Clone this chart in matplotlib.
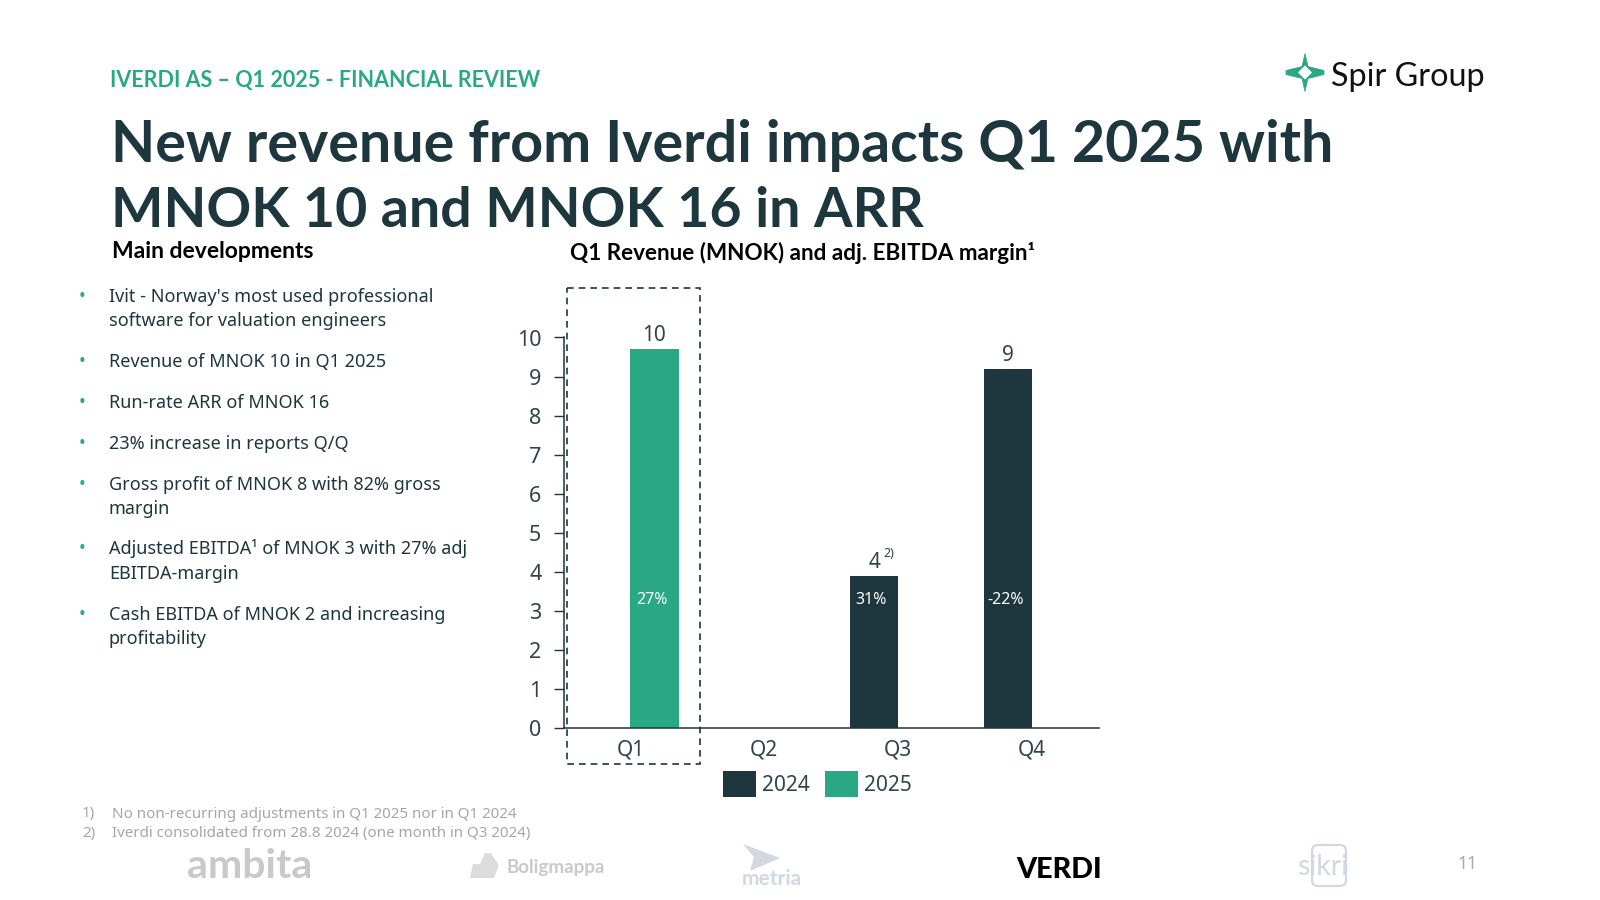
"""Iverdi Q1 2025 review slide: revenue bars per quarter plus the slide text around them."""
import matplotlib
matplotlib.use("Agg")
import matplotlib.pyplot as plt
import numpy as np
from matplotlib.patches import FancyBboxPatch, Polygon, Rectangle

DARK = "#1e363d"
GREEN = "#2aa884"
TICK = "#2f444c"
FOOT = "#a6a6a6"
LOGO = "#c9c9c9"
LOGO_BLUE = "#d3d7e2"
HEAD = ["Lato", "DejaVu Sans"]

quarters = ["Q1", "Q2", "Q3", "Q4"]
rev_2024 = [np.nan, np.nan, 3.9, 9.2]
rev_2025 = [9.7, np.nan, np.nan, np.nan]
value_labels = ["10", "", "4", "9"]
margin_labels = ["27%", "", "31%", "-22%"]
yticks = list(range(0, 11))

bullets = [
    ["Ivit - Norway's most used professional", "software for valuation engineers"],
    ["Revenue of MNOK 10 in Q1 2025"],
    ["Run-rate ARR of MNOK 16"],
    ["23% increase in reports Q/Q"],
    ["Gross profit of MNOK 8 with 82% gross", "margin"],
    ["Adjusted EBITDA¹ of MNOK 3 with 27% adj", "EBITDA-margin"],
    ["Cash EBITDA of MNOK 2 and increasing", "profitability"],
]
bullet_y = [[297, 321], [362], [403], [485 - 41], [485, 509], [549, 574], [615, 639]]
footnotes = ["No non-recurring adjustments in Q1 2025 nor in Q1 2024",
             "Iverdi consolidated from 28.8 2024 (one month in Q3 2024)"]

plt.rcParams["font.family"] = ["Noto Sans", "DejaVu Sans"]

W, H = 1600, 900
fig = plt.figure(figsize=(16, 9), dpi=100, facecolor="white")

# page layer in pixel coordinates, y down
pg = fig.add_axes([0, 0, 1, 1], zorder=3)
pg.set_xlim(0, W)
pg.set_ylim(H, 0)
pg.axis("off")
pg.patch.set_alpha(0)

# chart
left, right, y0, y10 = 563.5, 1099, 728, 337.5
ax = fig.add_axes([left / W, 1 - y0 / H, (right - left) / W, (y0 - y10) / H], zorder=2)
x = np.arange(len(quarters))
bw = 0.36
b24 = ax.bar(x - bw / 2, rev_2024, bw, color=DARK, label="2024")
b25 = ax.bar(x + bw / 2, rev_2025, bw, color=GREEN, label="2025")
ax.set_xlim(-0.5, 3.5)
ax.set_ylim(0, 10)
ax.set_yticks(yticks)
ax.set_xticks(x)
ax.set_xticklabels(quarters)
ax.tick_params(axis="y", length=7, width=1, color=DARK, labelsize=15.5, labelcolor=TICK, pad=9)
ax.tick_params(axis="x", length=0, labelsize=15, labelcolor=TICK, pad=8)
for s in ("top", "right"):
    ax.spines[s].set_visible(False)
for s in ("left", "bottom"):
    ax.spines[s].set_color(DARK)
    ax.spines[s].set_linewidth(1.1)
for i in range(len(quarters)):
    if not value_labels[i]:
        continue
    is_25 = not np.isnan(rev_2025[i])
    xc = x[i] + bw / 2 if is_25 else x[i] - bw / 2
    val = rev_2025[i] if is_25 else rev_2024[i]
    ax.annotate(value_labels[i], (xc, val), xytext=(0, 2), textcoords="offset points",
                ha="center", va="bottom", fontsize=15, color=TICK)
    ax.annotate(margin_labels[i], (xc, 3.27), xytext=(-2, 0),
                textcoords="offset points", ha="center", va="center", fontsize=11.5, color="white")
ax.annotate("2)", (x[2] - bw / 2, rev_2024[2]), xytext=(7, 16), textcoords="offset points",
            ha="left", va="center", fontsize=9, color=TICK)
ax.legend(handles=[b24, b25], ncol=2, frameon=False, loc="center", fontsize=15,
          labelcolor=TICK, bbox_to_anchor=(0.474, -0.143), handlelength=1.6, handleheight=1.53,
          handletextpad=0.3, columnspacing=0.7, borderpad=0, borderaxespad=0)

# dashed highlight around Q1
pg.add_patch(Rectangle((567, 288), 133, 476, fill=False, ec=DARK, lw=1.2, ls=(0, (4, 3))))

# header
pg.text(110.5, 80, "IVERDI AS – Q1 2025 - FINANCIAL REVIEW", color=GREEN, fontsize=15.5,
        family=HEAD, fontweight="bold", va="center")
pg.text(111, 145, "New revenue from Iverdi impacts Q1 2025 with", color=DARK, fontsize=41.3,
        family=HEAD, fontweight="bold", va="center")
pg.text(111, 211, "MNOK 10 and MNOK 16 in ARR", color=DARK, fontsize=40,
        family=HEAD, fontweight="bold", va="center")
pg.text(112, 252, "Main developments", color="black", fontsize=16.5, family=HEAD, fontweight="bold", va="center")
pg.text(570, 253, "Q1 Revenue (MNOK) and adj. EBITDA margin¹", color="black", fontsize=16.2,
        family=HEAD, fontweight="bold", va="center")

# bullets
for lines, ys in zip(bullets, bullet_y):
    pg.text(82, ys[0] - 1, "•", color=GREEN, fontsize=13, ha="center", va="center")
    for line, yy in zip(lines, ys):
        pg.text(109, yy, line, color=DARK, fontsize=13, va="center")

# footnotes
for i, note in enumerate(footnotes):
    yy = 814 + i * 20
    pg.text(82, yy, f"{i + 1})", color=FOOT, fontsize=10.9, va="center")
    pg.text(112.5, yy, note, color=FOOT, fontsize=10.9, va="center")

# Spir Group logo
cx, cy = 1308 - 3, 72.5
star = [(cx, cy - 19), (cx + 3, cy - 6), (cx + 19, cy - 2), (cx + 19, cy + 2), (cx + 3, cy + 6),
        (cx, cy + 19), (cx - 3, cy + 6), (cx - 19, cy + 2), (cx - 19, cy - 2), (cx - 3, cy - 6)]
pg.add_patch(Polygon(star, fc=GREEN, ec=GREEN, lw=0.5))
pg.add_patch(Polygon([(cx, cy - 7), (cx + 7, cy), (cx, cy + 7), (cx - 7, cy)], fc="white", ec="none"))
pg.text(1331, 77, "Spir Group", color="#111111", fontsize=23.3, family=HEAD, va="center")

# customer logos
pg.text(250, 866, "ambita", color=LOGO, fontsize=29.5, family=HEAD, fontweight="bold", ha="center", va="center")
pg.add_patch(Polygon([(470, 878), (473, 864), (480, 864), (485, 853), (491, 853), (498, 864),
                      (498, 868), (494, 878)], fc="#dcdcdc", ec="none"))
pg.text(556, 867, "Boligmappa", color=LOGO, fontsize=13.5, family=HEAD, fontweight="bold", ha="center", va="center")
pg.add_patch(Polygon([(743, 844), (780, 858), (750, 871), (754, 857)], fc=LOGO_BLUE, ec="none"))
pg.text(772, 879, "metria", color=LOGO_BLUE, fontsize=15, family=HEAD, fontweight="bold", ha="center", va="center")
pg.text(1059, 870, "VERDI", color="black", fontsize=20.7, family=HEAD, fontweight="black", ha="center", va="center")
pg.add_patch(FancyBboxPatch((1312, 845), 34, 41, boxstyle="round,pad=0,rounding_size=6", fill=False,
                            ec=LOGO_BLUE, lw=1.6))
pg.text(1323, 867, "sikri", color=LOGO_BLUE, fontsize=20.5, ha="center", va="center", family=HEAD)
pg.text(1471 - 4, 864, "11", color="#a9a9a9", fontsize=12.5, ha="center", va="center")

fig.savefig("out.png", dpi=100)
